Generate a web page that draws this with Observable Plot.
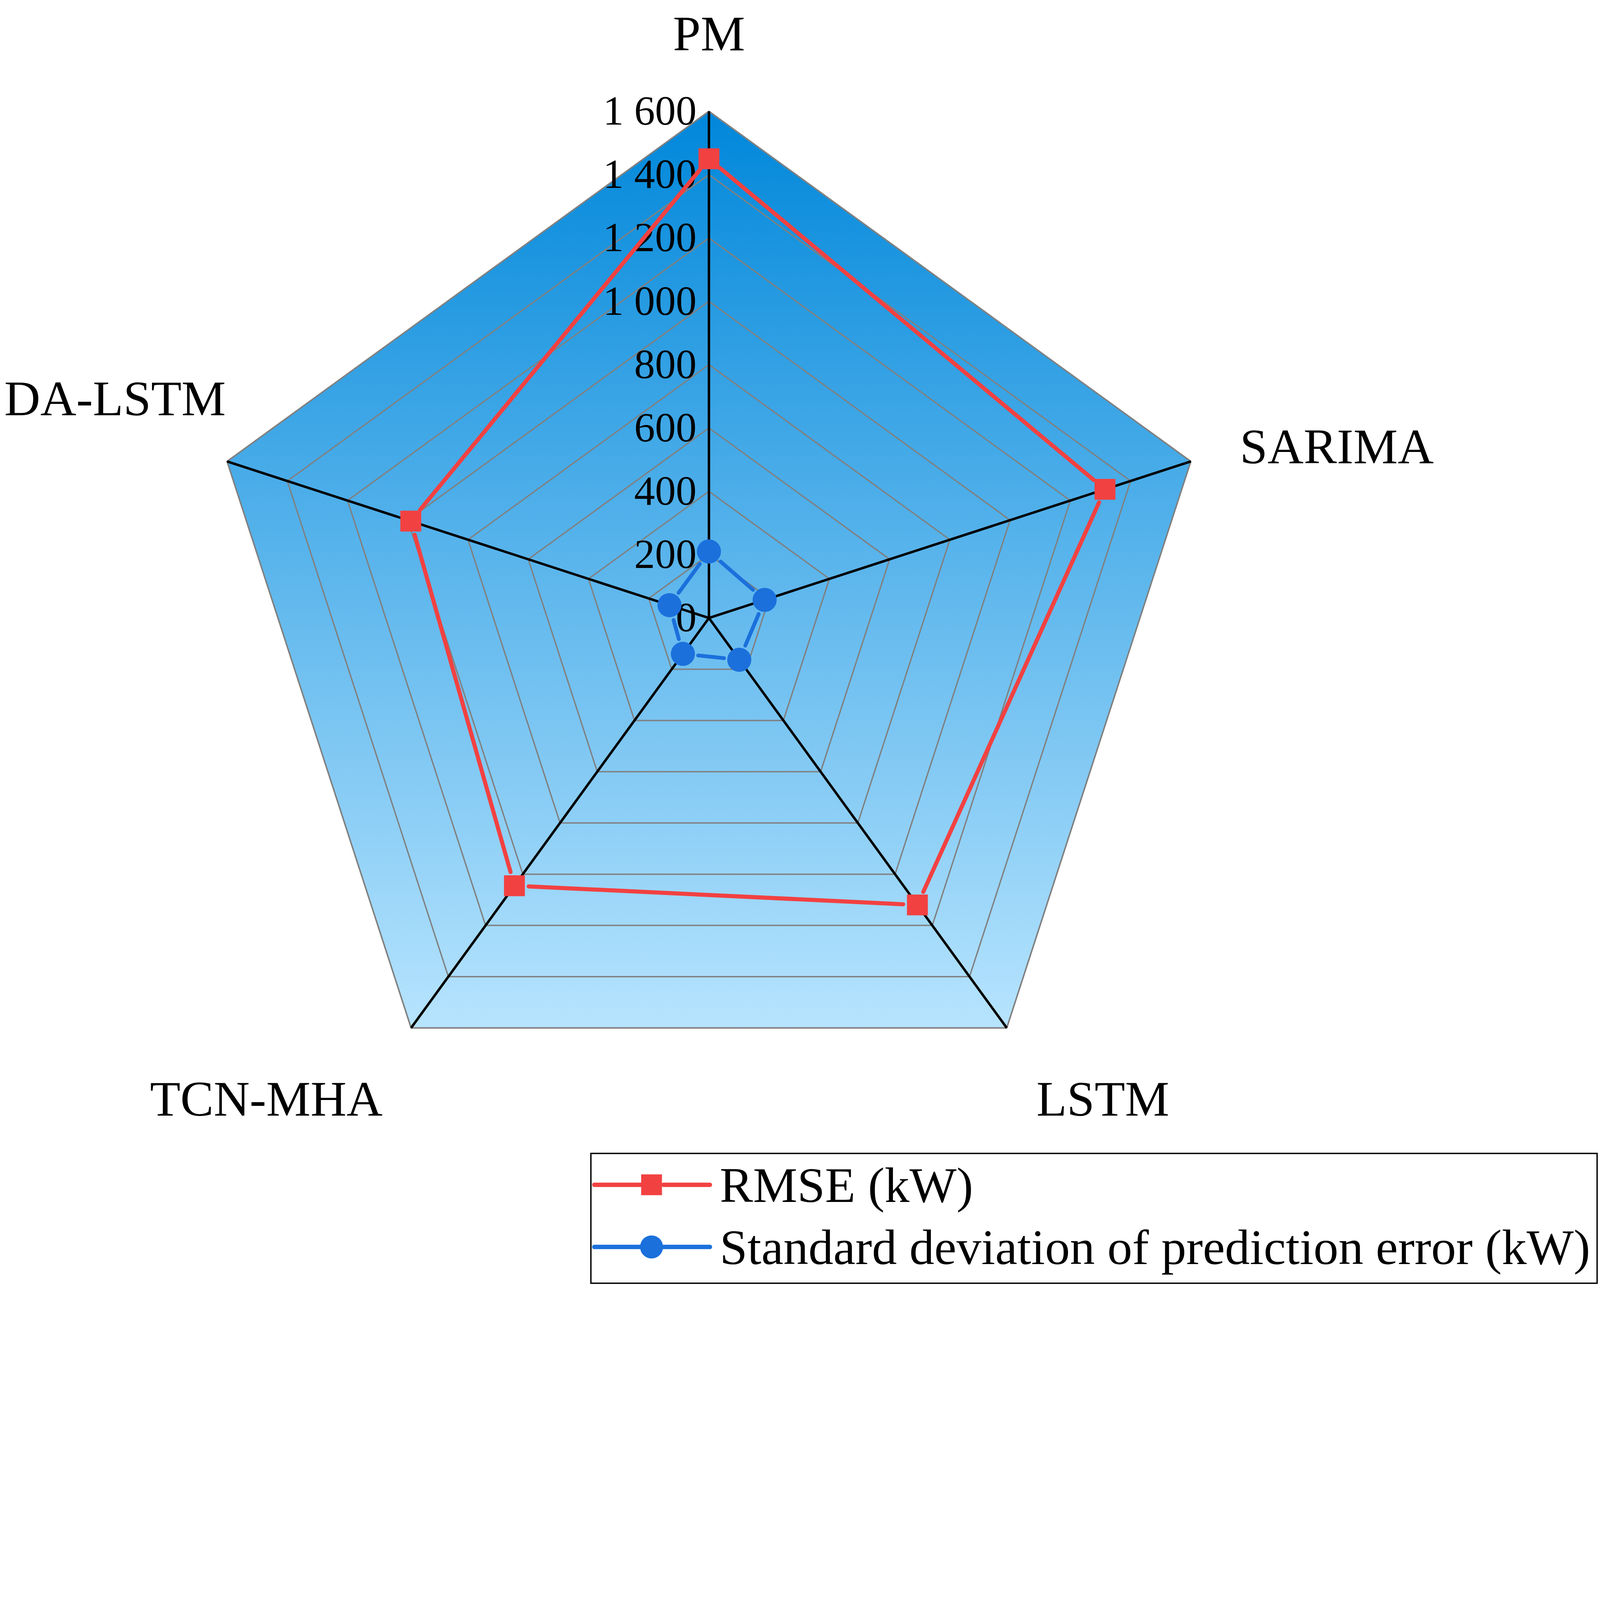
<!DOCTYPE html>
<html>
<head>
<meta charset="utf-8">
<script src="https://cdn.jsdelivr.net/npm/d3@7"></script>
<script src="https://cdn.jsdelivr.net/npm/@observablehq/plot@0.6"></script>
<style>
  html, body { margin: 0; padding: 0; background: white; overflow: hidden; }
  #chart svg, #legend svg { display: block; width: 100%; height: auto; max-width: 100%; }
</style>
</head>
<body>
<div id="chart"></div>
<div id="legend"></div>
<script>
const categories = ["PM", "SARIMA", "LSTM", "TCN-MHA", "DA-LSTM"];
const rmse = [1450, 1315, 1120, 1045, 990];
const stdDev = [210, 185, 163, 140, 131];
const tickValues = [0, 200, 400, 600, 800, 1000, 1200, 1400, 1600];
const seriesNames = ["RMSE (kW)", "Standard deviation of prediction error (kW)"];

const maxValue = 1600;
const n = categories.length;
const angle = i => (2 * Math.PI * i) / n;
const px = (r, i) => r * Math.sin(angle(i));
const py = (r, i) => r * Math.cos(angle(i));

const fmt = d3.formatLocale({decimal: ".", thousands: " ", grouping: [3], currency: ["", ""]}).format(",");

// data tables built from the arrays
const outline = d3.range(n + 1).map(k => ({i: k % n, r: maxValue}));
const rings = tickValues.filter(t => t > 0).flatMap(t => d3.range(n + 1).map(k => ({ring: t, i: k % n})));
const spokes = categories.map((c, i) => ({i}));
const segs = vals => vals.map((v, i) => ({a: i, b: (i + 1) % n, va: v, vb: vals[(i + 1) % n]}));
const rmsePts = rmse.map((v, i) => ({i, v}));
const stdPts = stdDev.map((v, i) => ({i, v}));

const W = 5842, H = 4209, LH = 483;
const RED = "#f24141", BLUE = "#1b70dc";

const labelOffsets = [[0, -281], [533, -52], [351, 262], [-529, 262], [-409, -227]];

const gradient = () => {
  const defs = document.createElementNS("http://www.w3.org/2000/svg", "defs");
  defs.innerHTML = `<linearGradient id="radarGrad" x1="0" y1="0" x2="0" y2="1">
      <stop offset="0" stop-color="#0087da"/>
      <stop offset="1" stop-color="#b7e4fe"/>
    </linearGradient>`;
  return defs;
};

const chart = Plot.plot({
  width: W,
  height: H,
  margin: 0,
  x: {domain: [-2238.3, 2814.3], range: [0, W], axis: null},
  y: {domain: [-1689.1, 1951.1], range: [H, 0], axis: null},
  style: {fontFamily: "'Liberation Serif', 'Times New Roman', serif", background: "white", color: "black"},
  marks: [
    gradient,
    Plot.line(outline, {x: d => px(d.r, d.i), y: d => py(d.r, d.i), fill: "url(#radarGrad)", stroke: "#808080", strokeWidth: 5}),
    Plot.line(rings, {x: d => px(d.ring, d.i), y: d => py(d.ring, d.i), z: "ring", stroke: "#808080", strokeWidth: 5}),
    Plot.link(spokes, {x1: 0, y1: 0, x2: d => px(maxValue, d.i), y2: d => py(maxValue, d.i), stroke: "black", strokeWidth: 9}),
    Plot.text(tickValues, {x: 0, y: d => d, text: d => fmt(d), textAnchor: "end", dx: -45, fontSize: 152, fill: "black"}),
    Plot.arrow(segs(rmse), {x1: d => px(d.va, d.a), y1: d => py(d.va, d.a), x2: d => px(d.vb, d.b), y2: d => py(d.vb, d.b), insetStart: 52, insetEnd: 52, headLength: 0, bend: 0, stroke: RED, strokeWidth: 15, strokeLinecap: "round"}),
    Plot.dot(rmsePts, {x: d => px(d.v, d.i), y: d => py(d.v, d.i), symbol: "square", r: 43, fill: RED, stroke: "none"}),
    Plot.arrow(segs(stdDev), {x1: d => px(d.va, d.a), y1: d => py(d.va, d.a), x2: d => px(d.vb, d.b), y2: d => py(d.vb, d.b), insetStart: 56, insetEnd: 56, headLength: 0, bend: 0, stroke: BLUE, strokeWidth: 14, strokeLinecap: "round"}),
    Plot.dot(stdPts, {x: d => px(d.v, d.i), y: d => py(d.v, d.i), r: 44, fill: BLUE, stroke: "none"}),
    ...categories.map((c, i) => Plot.text([c], {x: () => px(maxValue, i), y: () => py(maxValue, i), text: d => d, dx: labelOffsets[i][0], dy: labelOffsets[i][1], fontSize: 182, fill: "black"}))
  ]
});
document.getElementById("chart").appendChild(chart);

// Legend below the chart (scaled like the chart through its viewBox)
const lg = d3.select("#legend").append("svg")
  .attr("viewBox", `0 0 ${W} ${LH}`)
  .attr("width", W).attr("height", LH)
  .style("font-family", "'Liberation Serif', 'Times New Roman', serif");
lg.append("rect").attr("x", 2157.5).attr("y", 2.5).attr("width", 3674).attr("height", 474)
  .attr("fill", "white").attr("stroke", "black").attr("stroke-width", 5);
const rows = [{name: seriesNames[0], color: RED, shape: "square", cy: 117}, {name: seriesNames[1], color: BLUE, shape: "circle", cy: 344}];
rows.forEach(r => {
  lg.append("line").attr("x1", 2170).attr("x2", 2340).attr("y1", r.cy).attr("y2", r.cy)
    .attr("stroke", r.color).attr("stroke-width", 16).attr("stroke-linecap", "round");
  lg.append("line").attr("x1", 2422).attr("x2", 2592).attr("y1", r.cy).attr("y2", r.cy)
    .attr("stroke", r.color).attr("stroke-width", 16).attr("stroke-linecap", "round");
  if (r.shape === "square") {
    lg.append("rect").attr("x", 2379 - 38).attr("y", r.cy - 38).attr("width", 76).attr("height", 76).attr("fill", r.color);
  } else {
    lg.append("circle").attr("cx", 2379).attr("cy", r.cy).attr("r", 42).attr("fill", r.color);
  }
  lg.append("text").attr("x", 2628).attr("y", r.cy + 62).attr("font-size", 182).attr("fill", "black").text(r.name);
});
</script>
</body>
</html>
